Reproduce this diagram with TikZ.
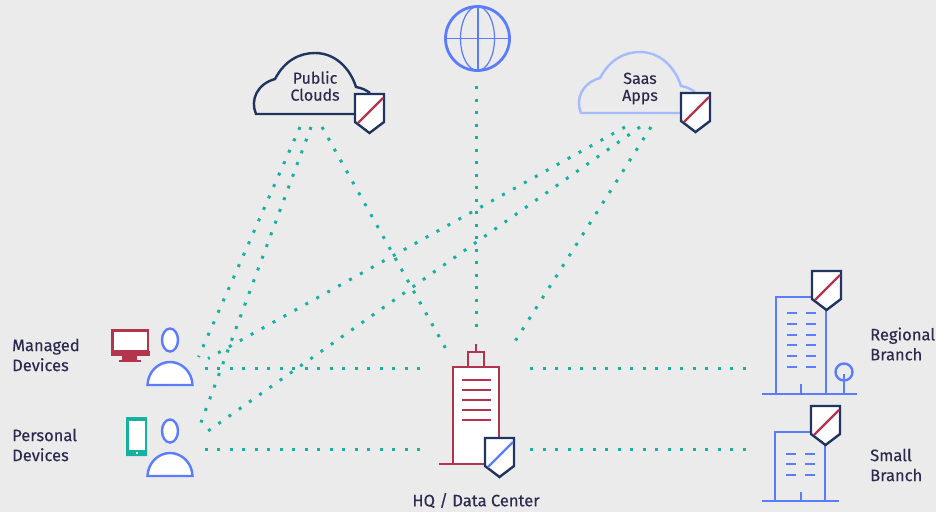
\documentclass[tikz,border=0pt]{standalone}
\usepackage{fontspec}
\setmainfont{Fira Sans}
\definecolor{bgc}{HTML}{EBEBEB}
\definecolor{navy}{HTML}{1F3560}
\definecolor{wine}{HTML}{B5344D}
\definecolor{azure}{HTML}{5B7CFF}
\definecolor{pale}{HTML}{A6BBFF}
\definecolor{teal}{HTML}{17B1A2}
\definecolor{ink}{HTML}{2A2A4E}
\tikzset{
  link/.style={teal,line width=3pt,dash pattern=on 3pt off 9.5pt},
  label/.style={ink,font=\fontsize{16.5}{20}\selectfont\addfontfeature{FakeBold=0.2},inner sep=0},
  cloudlabel/.style={label,align=center,font=\fontsize{16}{17}\selectfont\addfontfeature{FakeBold=0.2}},
  pics/shield/.style={code={
    \draw[navy,line width=2.4,fill=white] (0,0) -- (29,0) -- (29,28) -- (14.5,39) -- (0,28) -- cycle;
    \draw[#1,line width=2.4] (28,4) -- (3,29);
  }},
  pics/cloudline/.style={code={
    \draw[#1,line width=2.4] (356,114) -- (256,114) .. controls (250,100) and (257,84) .. (275,79)
      .. controls (285,60) and (300,53) .. (315,53) .. controls (335,53) and (350,68) .. (356,87)
      .. controls (362,88) and (366,90) .. (370,93);
  }},
  pics/person/.style={code={
    \draw[azure,line width=2.4,fill=white] (0,-45) ellipse (8 and 11.5);
    \draw[azure,line width=2.4,fill=white] (-22.5,0) -- (22.5,0) .. controls (22,-14) and (11,-23) .. (0,-23)
      .. controls (-11,-23) and (-22,-14) .. (-22.5,0) -- cycle;
  }},
}
\begin{document}
\begin{tikzpicture}[x=1pt,y=-1pt]
  \useasboundingbox[fill=bgc] (0,0) rectangle (936,512);

  % connector ends
  \coordinate (pubA) at (300,127);
  \coordinate (pubB) at (311,127);
  \coordinate (pubC) at (322,127);
  \coordinate (saasA) at (625,127);
  \coordinate (saasB) at (640,127);
  \coordinate (saasC) at (651,127);
  \coordinate (webEnd) at (476,86);
  \coordinate (hqTop) at (476,335);
  \coordinate (hqPub) at (446,349);
  \coordinate (hqSaas) at (515.5,340.5);
  \coordinate (mgdA) at (198.5,357);
  \coordinate (mgdB) at (208,358.5);
  \coordinate (perA) at (201,422.5);
  \coordinate (perB) at (208,431);
  \coordinate (mgdOut) at (204.5,368);
  \coordinate (hqMgd) at (424,368);
  \coordinate (perOut) at (204.5,449);
  \coordinate (hqPer) at (424,449);
  \coordinate (hqReg) at (530,368);
  \coordinate (regIn) at (748,368);
  \coordinate (hqSmall) at (530,449);
  \coordinate (smallIn) at (748,449);

  % dotted links
  \draw[link] (webEnd) -- (hqTop);
  \draw[link] (pubA) -- (mgdA);
  \draw[link] (pubB) -- (perA);
  \draw[link] (pubC) -- (hqPub);
  \draw[link] (saasA) -- (mgdB);
  \draw[link] (saasB) -- (perB);
  \draw[link] (saasC) -- (hqSaas);
  \draw[link] (mgdOut) -- (hqMgd);
  \draw[link] (perOut) -- (hqPer);
  \draw[link] (hqReg) -- (regIn);
  \draw[link] (hqSmall) -- (smallIn);

  % globe
  \draw[azure,line width=2.8] (477.5,38.5) circle (32);
  \draw[azure,line width=1.2] (477.5,38.5) ellipse (17 and 32);
  \draw[azure,line width=2] (477.5,6.5) -- (477.5,70.5);
  \draw[azure,line width=1.5] (445.5,38.5) -- (509.5,38.5);

  % clouds
  \pic {cloudline=navy};
  \node[cloudlabel] (pubLabel) at (315,86) {Public\\Clouds};
  \pic at (355,94) {shield=wine};
  \pic at (325,-1) {cloudline=pale};
  \node[cloudlabel] (saasLabel) at (640,88.5) {Saas\\Apps};
  \pic at (681,93) {shield=wine};

  % managed devices
  \node[label,align=left,anchor=west] (mgdLabel) at (12,355) {Managed\\Devices};
  \draw[wine,line width=2.5,fill=white] (112.5,330.5) rectangle (148,351);
  \fill[wine] (110.5,351) rectangle (149.5,356);
  \fill[wine] (122,356) rectangle (137,360);
  \fill[wine] (119,360) rectangle (141,362);
  \pic at (170,385) {person};

  % personal devices
  \node[label,align=left,anchor=west] (perLabel) at (12,445) {Personal\\Devices};
  \fill[teal,rounded corners=0.5] (126,417) rectangle (147,456);
  \fill[white] (128.5,421) rectangle (145,450);
  \fill[white] (135.5,452) rectangle (137.5,454);
  \pic at (170,476) {person};

  % hq
  \draw[wine,line width=2.4] (476,344) -- (476,352);
  \draw[wine,line width=2.4] (468,367) -- (468,352) -- (484,352) -- (484,367);
  \draw[wine,line width=2.4,fill=white] (452.7,464) -- (452.7,367) -- (499,367) -- (499,464);
  \draw[wine,line width=2.4] (439,464) -- (490,464);
  \foreach \y in {380,390,400,410,420}
    \draw[wine,line width=2.2] (462,\y) -- (491,\y);
  \pic at (485,438) {shield=azure};
  \node[label] (hqLabel) at (476,500.5) {HQ / Data Center};

  % regional branch
  \draw[azure,line width=2.4] (826,394) -- (826,297) -- (776,297) -- (776,394);
  \draw[azure,line width=2.4] (762,394) -- (857,394);
  \draw[azure,line width=2.4] (801,384) -- (801,394);
  \foreach \y in {313,324,335,345,356,367} {
    \draw[azure,line width=2.2] (787,\y) -- (797,\y);
    \draw[azure,line width=2.2] (806,\y) -- (816,\y);
  }
  \draw[azure,line width=2.4] (844,372) circle (8.5);
  \draw[azure,line width=2.4] (844,374) -- (844,394);
  \pic at (812,271) {shield=wine};
  \node[label,align=left,anchor=west] (regLabel) at (870,344) {Regional\\Branch};

  % small branch
  \draw[azure,line width=2.4] (825,501) -- (825,432) -- (775,432) -- (775,501);
  \draw[azure,line width=2.4] (762,501) -- (839,501);
  \draw[azure,line width=2.4] (801,492) -- (801,501);
  \foreach \y in {454,464,475} {
    \draw[azure,line width=2.2] (786,\y) -- (796,\y);
    \draw[azure,line width=2.2] (805,\y) -- (815,\y);
  }
  \pic at (811,406) {shield=wine};
  \node[label,align=left,anchor=west] (smallLabel) at (870,465) {Small\\Branch};
\end{tikzpicture}
\end{document}
